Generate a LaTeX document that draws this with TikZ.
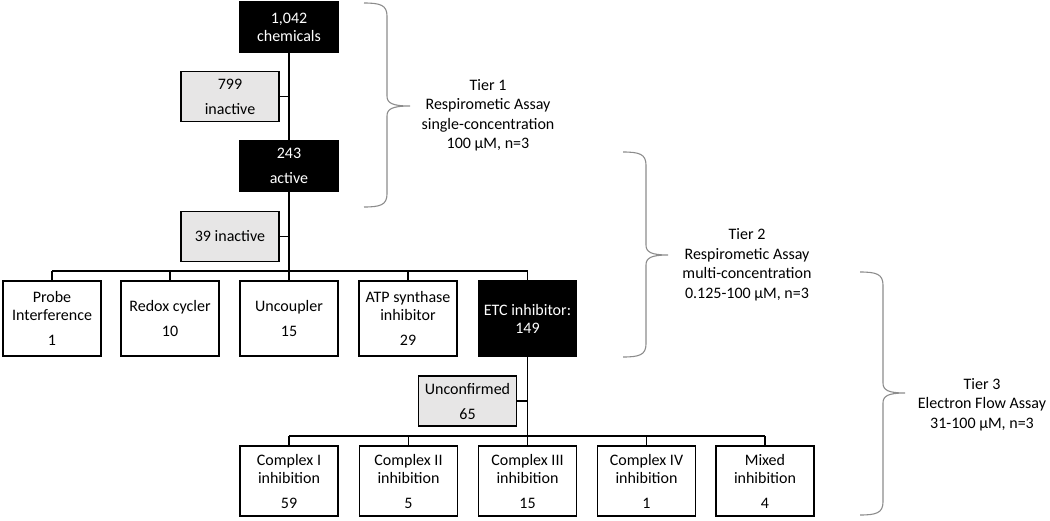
\documentclass[tikz,border=0pt]{standalone}
\usepackage{fontspec}
\setmainfont{Carlito}
\definecolor{boxgrey}{RGB}{231,230,230}
\definecolor{bracegrey}{RGB}{140,140,140}

\begin{document}
\begin{tikzpicture}[x=1pt,y=-1pt,
  line width=1.2pt,
  box/.style={rectangle,draw,align=center,inner sep=0pt,
    font=\fontsize{16}{18}\selectfont,minimum width=98,minimum height=75},
  dark node/.style={box,fill=black,text=white},
  grey node/.style={box,fill=boxgrey,minimum height=50},
  white node/.style={box,fill=white},
  tier/.style={align=center,font=\fontsize{16}{19.5}\selectfont},
  tier brace/.style={draw=bracegrey,line width=1.1pt}]

  \useasboundingbox (0,0) rectangle (1050,520);

  % tier 1
  \node[dark node,minimum height=50] (chem) at (289,27) {1,042\\chemicals};
  \node[grey node] (inact1) at (230,96.5) {799\\[7pt]inactive};
  \node[dark node,minimum height=50] (act) at (289,166) {243\\[7pt]active};

  % tier 2
  \node[grey node] (inact2) at (230,236.5) {39 inactive};
  \node[white node] (probe) at (52,318.5) {Probe\\Interference\\[7pt]1};
  \node[white node] (redox) at (170,318.5) {Redox cycler\\[7pt]10};
  \node[white node] (uncoup) at (289,318.5) {Uncoupler\\[7pt]15};
  \node[white node] (atp) at (408,318.5) {ATP synthase\\inhibitor\\[7pt]29};
  \node[dark node] (etcinh) at (527.5,318.5) {ETC inhibitor:\\149};

  % tier 3
  \node[grey node] (unconf) at (467.5,401) {Unconfirmed\\[7pt]65};
  \node[white node,minimum height=70] (c1) at (289,481) {Complex I\\inhibition\\[7pt]59};
  \node[white node,minimum height=70] (c2) at (408.5,481) {Complex II\\inhibition\\[7pt]5};
  \node[white node,minimum height=70] (c3) at (527.5,481) {Complex III\\inhibition\\[7pt]15};
  \node[white node,minimum height=70] (c4) at (646.5,481) {Complex IV\\inhibition\\[7pt]1};
  \node[white node,minimum height=70] (mixed) at (765,481) {Mixed\\inhibition\\[7pt]4};

  \coordinate (bus1) at (289,271);
  \coordinate (bus2) at (527.5,436);

  \draw (chem) -- (act);
  \draw (inact1) -- (inact1 -| chem);
  \draw (act) -- (uncoup);
  \draw (inact2) -- (inact2 -| act);
  \draw (probe.north |- bus1) -- (etcinh.north |- bus1);
  \foreach \n in {probe,redox,atp,etcinh}
    \draw (\n.north) -- (\n.north |- bus1);

  \draw (etcinh) -- (c3);
  \draw (unconf) -- (unconf -| etcinh);
  \draw (c1.north |- bus2) -- (mixed.north |- bus2);
  \foreach \n in {c1,c2,c4,mixed}
    \draw (\n.north) -- (\n.north |- bus2);

  % braces and tier labels
  \draw[tier brace] (364,3) .. controls (380,3) and (387,5) .. (387,16) -- (387,96)
    .. controls (387,103) and (392,106) .. (410,106)
    .. controls (392,106) and (387,109) .. (387,116) -- (387,194)
    .. controls (387,205) and (380,207) .. (364,207);
  \node[tier] (t1) at (488,115.5) {Tier 1\\Respirometic Assay\\single-concentration\\100 µM, n=3};

  \draw[tier brace] (623,152) .. controls (639,152) and (646,154) .. (646,165) -- (646,245)
    .. controls (646,252) and (651,255) .. (668,255)
    .. controls (651,255) and (646,258) .. (646,265) -- (646,344)
    .. controls (646,355) and (639,357) .. (623,357);
  \node[tier] (t2) at (747,265) {Tier 2\\Respirometic Assay\\multi-concentration\\0.125-100 µM, n=3};

  \draw[tier brace] (860,272) .. controls (876,272) and (883,274) .. (883,285) -- (883,383)
    .. controls (883,390) and (888,393) .. (905,393)
    .. controls (888,393) and (883,396) .. (883,403) -- (883,502)
    .. controls (883,513) and (876,515) .. (860,515);
  \node[tier] (t3) at (982,404.5) {Tier 3\\Electron Flow Assay\\31-100 µM, n=3};
\end{tikzpicture}
\end{document}
